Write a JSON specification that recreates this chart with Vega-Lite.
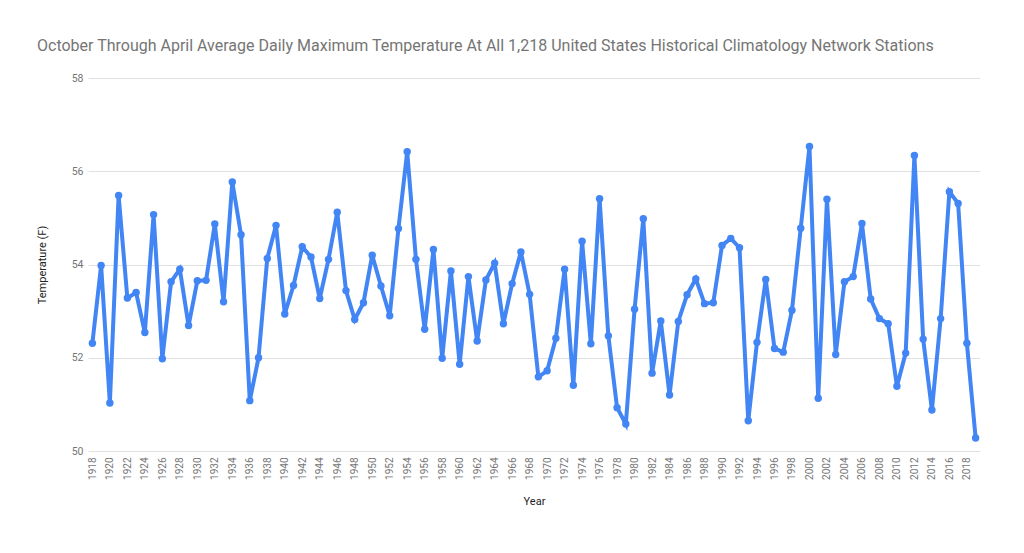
{
  "$schema": "https://vega.github.io/schema/vega-lite/v6.json",
  "width": 892,
  "height": 373,
  "autosize": {"type": "none"},
  "padding": {"left": 88, "top": 78, "right": 44, "bottom": 102},
  "background": "white",
  "title": {
    "text": "October Through April Average Daily Maximum Temperature At All 1,218 United States Historical Climatology Network Stations",
    "anchor": "start",
    "frame": "group",
    "dx": -51,
    "offset": 19,
    "font": "Roboto",
    "fontSize": 16,
    "fontWeight": "normal",
    "color": "#757575"
  },
  "data": {
    "values": [
      {"year": 1918, "temp": 52.31}, {"year": 1919, "temp": 53.98}, {"year": 1920, "temp": 51.03},
      {"year": 1921, "temp": 55.48}, {"year": 1922, "temp": 53.28}, {"year": 1923, "temp": 53.40},
      {"year": 1924, "temp": 52.54}, {"year": 1925, "temp": 55.07}, {"year": 1926, "temp": 51.98},
      {"year": 1927, "temp": 53.63}, {"year": 1928, "temp": 53.90}, {"year": 1929, "temp": 52.69},
      {"year": 1930, "temp": 53.65}, {"year": 1931, "temp": 53.66}, {"year": 1932, "temp": 54.87},
      {"year": 1933, "temp": 53.20}, {"year": 1934, "temp": 55.77}, {"year": 1935, "temp": 54.64},
      {"year": 1936, "temp": 51.08}, {"year": 1937, "temp": 52.00}, {"year": 1938, "temp": 54.13},
      {"year": 1939, "temp": 54.84}, {"year": 1940, "temp": 52.94}, {"year": 1941, "temp": 53.55},
      {"year": 1942, "temp": 54.38}, {"year": 1943, "temp": 54.16}, {"year": 1944, "temp": 53.27},
      {"year": 1945, "temp": 54.11}, {"year": 1946, "temp": 55.12}, {"year": 1947, "temp": 53.44},
      {"year": 1948, "temp": 52.82}, {"year": 1949, "temp": 53.18}, {"year": 1950, "temp": 54.20},
      {"year": 1951, "temp": 53.54}, {"year": 1952, "temp": 52.90}, {"year": 1953, "temp": 54.77},
      {"year": 1954, "temp": 56.42}, {"year": 1955, "temp": 54.11}, {"year": 1956, "temp": 52.61},
      {"year": 1957, "temp": 54.32}, {"year": 1958, "temp": 51.99}, {"year": 1959, "temp": 53.86},
      {"year": 1960, "temp": 51.86}, {"year": 1961, "temp": 53.74}, {"year": 1962, "temp": 52.36},
      {"year": 1963, "temp": 53.67}, {"year": 1964, "temp": 54.03}, {"year": 1965, "temp": 52.73},
      {"year": 1966, "temp": 53.59}, {"year": 1967, "temp": 54.27}, {"year": 1968, "temp": 53.36},
      {"year": 1969, "temp": 51.59}, {"year": 1970, "temp": 51.72}, {"year": 1971, "temp": 52.42},
      {"year": 1972, "temp": 53.90}, {"year": 1973, "temp": 51.41}, {"year": 1974, "temp": 54.50},
      {"year": 1975, "temp": 52.30}, {"year": 1976, "temp": 55.41}, {"year": 1977, "temp": 52.47},
      {"year": 1978, "temp": 50.93}, {"year": 1979, "temp": 50.58}, {"year": 1980, "temp": 53.04},
      {"year": 1981, "temp": 54.98}, {"year": 1982, "temp": 51.67}, {"year": 1983, "temp": 52.79},
      {"year": 1984, "temp": 51.20}, {"year": 1985, "temp": 52.78}, {"year": 1986, "temp": 53.35},
      {"year": 1987, "temp": 53.69}, {"year": 1988, "temp": 53.16}, {"year": 1989, "temp": 53.18},
      {"year": 1990, "temp": 54.41}, {"year": 1991, "temp": 54.56}, {"year": 1992, "temp": 54.36},
      {"year": 1993, "temp": 50.65}, {"year": 1994, "temp": 52.33}, {"year": 1995, "temp": 53.68},
      {"year": 1996, "temp": 52.20}, {"year": 1997, "temp": 52.12}, {"year": 1998, "temp": 53.02},
      {"year": 1999, "temp": 54.78}, {"year": 2000, "temp": 56.53}, {"year": 2001, "temp": 51.13},
      {"year": 2002, "temp": 55.40}, {"year": 2003, "temp": 52.07}, {"year": 2004, "temp": 53.63},
      {"year": 2005, "temp": 53.74}, {"year": 2006, "temp": 54.88}, {"year": 2007, "temp": 53.26},
      {"year": 2008, "temp": 52.84}, {"year": 2009, "temp": 52.73}, {"year": 2010, "temp": 51.39},
      {"year": 2011, "temp": 52.10}, {"year": 2012, "temp": 56.34}, {"year": 2013, "temp": 52.40},
      {"year": 2014, "temp": 50.88}, {"year": 2015, "temp": 52.84}, {"year": 2016, "temp": 55.56},
      {"year": 2017, "temp": 55.31}, {"year": 2018, "temp": 52.31}, {"year": 2019, "temp": 50.28}
    ]
  },
  "mark": {
    "type": "line",
    "color": "#4285F4",
    "strokeWidth": 4,
    "point": {"filled": true, "size": 55, "color": "#4285F4"}
  },
  "encoding": {
    "x": {
      "field": "year",
      "type": "quantitative",
      "title": "Year",
      "scale": {"domain": [1917.5, 2019.5], "nice": false, "zero": false},
      "axis": {
        "values": [1918, 1920, 1922, 1924, 1926, 1928, 1930, 1932, 1934, 1936, 1938, 1940, 1942, 1944, 1946, 1948, 1950, 1952, 1954, 1956, 1958, 1960, 1962, 1964, 1966, 1968, 1970, 1972, 1974, 1976, 1978, 1980, 1982, 1984, 1986, 1988, 1990, 1992, 1994, 1996, 1998, 2000, 2002, 2004, 2006, 2008, 2010, 2012, 2014, 2016, 2018],
        "format": "d",
        "labelAngle": -90,
        "labelAlign": "right",
        "labelBaseline": "middle",
        "labelPadding": 6,
        "labelFontSize": 10,
        "grid": false,
        "titlePadding": 16,
        "labelOverlap": false
      }
    },
    "y": {
      "field": "temp",
      "type": "quantitative",
      "title": "Temperature (F)",
      "scale": {"domain": [50, 58], "nice": false, "zero": false},
      "axis": {
        "values": [50, 52, 54, 56, 58],
        "labelPadding": 5,
        "labelFontSize": 10.5,
        "grid": true,
        "gridColor": "#e0e0e0",
        "titlePadding": 24
      }
    }
  },
  "config": {
    "view": {"stroke": null},
    "axis": {
      "domain": false,
      "ticks": false,
      "tickSize": 0,
      "labelFont": "Roboto",
      "labelColor": "#757575",
      "titleFont": "Roboto",
      "titleFontSize": 11,
      "titleFontWeight": "normal",
      "titleColor": "#222222"
    }
  }
}
